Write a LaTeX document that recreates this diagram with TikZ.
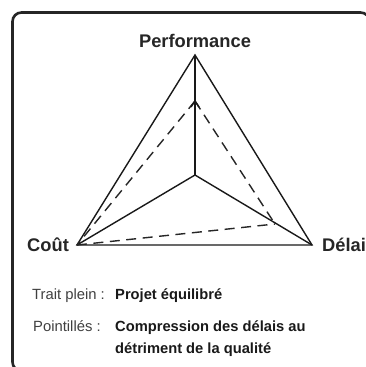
\documentclass[tikz,border=0pt]{standalone}
\usepackage{fontspec}
\setmainfont{Liberation Sans}
\usetikzlibrary{calc}
\begin{document}
\begin{tikzpicture}[x=1pt,y=-1pt,
  frame/.style={line width=2.6pt,draw=black!85,rounded corners=9pt},
  solidline/.style={line width=1.4pt,draw=black!90,line join=miter},
  dashline/.style={line width=1.4pt,draw=black!85,dash pattern=on 10pt off 6.5pt},
  vlabel/.style={inner sep=0pt,font=\fontsize{18.3}{20}\selectfont\bfseries,text=black!85},
  leglabel/.style={inner sep=0pt,font=\fontsize{14.8}{16}\selectfont,text=black!75},
  legtext/.style={inner sep=0pt,font=\fontsize{14.7}{16}\selectfont\bfseries,text=black!90}]
\useasboundingbox (0,0) rectangle (366,367);
\clip (0,0) rectangle (366,367);
\fill[white] (0,0) rectangle (366,367);
\draw[frame] (12.5,12.5) rectangle (369.5,371);
% vertices
\coordinate (P) at (195,55);
\coordinate (C) at (77,245);
\coordinate (D) at (312,245);
\coordinate (O) at (195,175);
\coordinate (Q) at (195,101);
\coordinate (R) at (275,224);
% solid triangle
\draw[solidline] (P) -- (C) -- (D) -- cycle;
\draw[solidline] (O) -- (P);
\draw[solidline] (O) -- (C);
\draw[solidline] (O) -- (D);
% dashed triangle
\draw[dashline] (Q) -- (C);
\draw[dashline] (Q) -- (R);
\draw[dashline] (C) -- (R);
\draw[line width=1.4pt,black!90] ($(Q)+(-4,6)$) -- (Q) -- ($(Q)+(4,6)$);
% labels
\node[vlabel,anchor=base] (perf) at (195,47) {Performance};
\node[vlabel,anchor=base west] (cout) at (27,251) {Coût};
\node[vlabel,anchor=base west] (delai) at (322,251) {Délai};
\node[leglabel,anchor=base west] (l1) at (32,299) {Trait plein :};
\node[legtext,anchor=base west] (t1) at (115,299) {Projet équilibré};
\node[leglabel,anchor=base west] (l2) at (33,331) {Pointillés :};
\node[legtext,anchor=base west] (t2) at (115,331) {Compression des délais au};
\node[legtext,anchor=base west] (t3) at (115,353) {détriment de la qualité};
\end{tikzpicture}
\end{document}
